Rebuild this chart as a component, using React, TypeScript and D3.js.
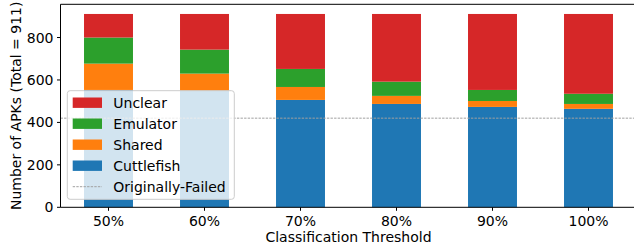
import React, { useRef, useEffect } from "react";
import * as d3 from "d3";

const thresholds = ["50%", "60%", "70%", "80%", "90%", "100%"];
const cuttlefish = [553, 549, 506, 487, 473, 464];
const shared = [124, 81, 61, 38, 28, 23];
const emulator = [123, 113, 85, 67, 52, 48];
const unclear = [111, 168, 259, 319, 358, 376];
const originallyFailed = 420;
const yTicks = [0, 200, 400, 600, 800];

const keys = ["Cuttlefish", "Shared", "Emulator", "Unclear"];
const colors: Record<string, string> = {
  Cuttlefish: "#1f77b4",
  Shared: "#ff7f0e",
  Emulator: "#2ca02c",
  Unclear: "#d62728"
};

function App() {
  const ref = useRef<HTMLDivElement>(null);

  const w = 634,
    h = 250;
  const left = 60.5,
    right = 636.5,
    top = 4.3,
    bottom = 207.3;
  const font = "DejaVu Sans, sans-serif";

  useEffect(() => {
    document.body.style.margin = "0";
    const root = d3.select(ref.current);
    root.selectAll("*").remove();

    const svg = root
      .append("svg")
      .attr("width", w)
      .attr("height", h)
      .style("display", "block")
      .style("font-family", font);

    const rows = thresholds.map((t, i) => ({
      t,
      Cuttlefish: cuttlefish[i],
      Shared: shared[i],
      Emulator: emulator[i],
      Unclear: unclear[i]
    }));
    const total = d3.max(rows, d => d.Cuttlefish + d.Shared + d.Emulator + d.Unclear) as number;

    const x = d3.scaleLinear().domain([-0.5, thresholds.length - 0.5]).range([left, right]);
    const y = d3.scaleLinear().domain([0, total * 1.05]).range([bottom, top]);
    const bw = x(0.255) - x(-0.255);

    const stack = d3.stack<any>().keys(keys)(rows);

    svg
      .append("g")
      .selectAll("g")
      .data(stack)
      .enter()
      .append("g")
      .attr("fill", d => colors[d.key])
      .selectAll("rect")
      .data(d => d)
      .enter()
      .append("rect")
      .attr("x", (d, i) => x(i) - bw / 2)
      .attr("y", d => y(d[1]))
      .attr("width", bw)
      .attr("height", d => y(d[0]) - y(d[1]));

    // originally failed line
    svg
      .append("line")
      .attr("x1", left)
      .attr("x2", w)
      .attr("y1", y(originallyFailed))
      .attr("y2", y(originallyFailed))
      .attr("stroke", "#a0a0a0")
      .attr("stroke-width", 1)
      .attr("stroke-dasharray", "2.4,1.2");

    // spines
    const ax = svg.append("g").attr("stroke", "black").attr("stroke-width", 1).attr("fill", "none");
    ax.append("line").attr("x1", left).attr("x2", left).attr("y1", top).attr("y2", bottom);
    ax.append("line").attr("x1", left).attr("x2", right).attr("y1", top).attr("y2", top);
    ax.append("line").attr("x1", left).attr("x2", right).attr("y1", bottom).attr("y2", bottom);

    // y ticks
    const yt = svg.append("g");
    yTicks.forEach(v => {
      yt.append("line")
        .attr("x1", left - 3.5)
        .attr("x2", left)
        .attr("y1", y(v))
        .attr("y2", y(v))
        .attr("stroke", "black");
      yt.append("text")
        .attr("x", left - 7)
        .attr("y", y(v))
        .attr("dy", "0.36em")
        .attr("text-anchor", "end")
        .attr("font-size", 14)
        .text(v);
    });

    // x ticks
    const xt = svg.append("g");
    thresholds.forEach((t, i) => {
      xt.append("line")
        .attr("x1", x(i))
        .attr("x2", x(i))
        .attr("y1", bottom)
        .attr("y2", bottom + 3.5)
        .attr("stroke", "black");
      xt.append("text")
        .attr("x", x(i))
        .attr("y", 226)
        .attr("text-anchor", "middle")
        .attr("font-size", 14)
        .text(t);
    });

    svg
      .append("text")
      .attr("x", (left + right) / 2)
      .attr("y", 241.5)
      .attr("text-anchor", "middle")
      .attr("font-size", 14)
      .text("Classification Threshold");

    svg
      .append("text")
      .attr("transform", `translate(20.5, ${(top + bottom) / 2}) rotate(-90)`)
      .attr("text-anchor", "middle")
      .attr("font-size", 14)
      .text("Number of APKs (Total = 911)");

    // legend
    const lg = svg.append("g");
    lg.append("rect")
      .attr("x", 67.3)
      .attr("y", 90.7)
      .attr("width", 167)
      .attr("height", 108.6)
      .attr("rx", 2.8)
      .attr("fill", "white")
      .attr("fill-opacity", 0.8)
      .attr("stroke", "#cccccc")
      .attr("stroke-width", 1);

    const items = [...keys].reverse().map(k => ({ label: k, type: "rect" }));
    items.push({ label: "Originally-Failed", type: "line" });

    items.forEach((it, i) => {
      const cy = 102.7 + i * 21;
      if (it.type === "rect") {
        lg.append("rect")
          .attr("x", 72.7)
          .attr("y", cy - 5.2)
          .attr("width", 29.3)
          .attr("height", 10.4)
          .attr("fill", colors[it.label]);
      } else {
        lg.append("line")
          .attr("x1", 72.7)
          .attr("x2", 102)
          .attr("y1", cy)
          .attr("y2", cy)
          .attr("stroke", "#a0a0a0")
          .attr("stroke-width", 1)
          .attr("stroke-dasharray", "2.4,1.2");
      }
      lg.append("text")
        .attr("x", 113.3)
        .attr("y", cy)
        .attr("dy", "0.36em")
        .attr("font-size", 14)
        .text(it.label);
    });
  }, []);

  return <div className="App" ref={ref}></div>;
}

export default App;
